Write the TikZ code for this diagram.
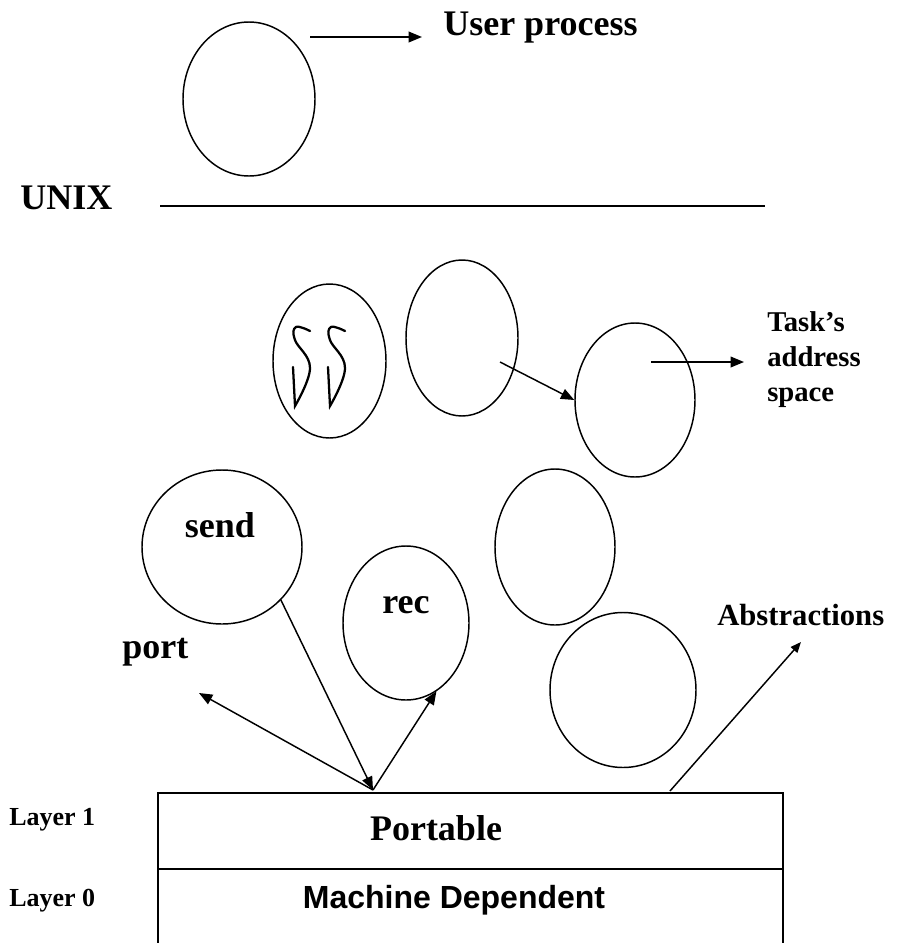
\documentclass[tikz,border=0pt]{standalone}
\usepackage{fontspec}
\setmainfont{Liberation Serif}
\setsansfont{Liberation Sans}
\usetikzlibrary{shapes.geometric,arrows.meta}

\begin{document}
\begin{tikzpicture}[x=0.75pt, y=-0.75pt,
    blob_node/.style 2 args={ellipse,draw,line width=1.1pt,inner sep=0pt,minimum width=#1*0.75pt,minimum height=#2*0.75pt},
    big_text/.style={inner sep=0pt,font=\fontsize{27}{30}\selectfont\bfseries},
    small_text/.style={inner sep=0pt,font=\fontsize{19.5}{27}\selectfont\bfseries,align=left},
    arrow_line/.style={line width=1.1pt,-{Triangle[length=10pt,width=8pt]}},
    layer_box/.style={draw,line width=1.6pt,outer sep=0pt,minimum width=625*0.75pt,minimum height=76*0.75pt,inner sep=0pt}]

    \useasboundingbox (0,0) rectangle (901,943);

    \node[blob_node={132}{154}] (1) at (249,99) {};
    \node[blob_node={113}{154}] (2) at (329.5,361) {};
    \node[blob_node={112}{156}] (3) at (462,338) {};
    \node[blob_node={120}{154}] (4) at (635,400) {};
    \node[blob_node={160}{154}] (5) at (222,547) {};
    \node[blob_node={126}{154}] (6) at (406,623) {};
    \node[blob_node={120}{156}] (7) at (555,547) {};
    \node[blob_node={146}{155}] (8) at (623,690) {};

    \node[layer_box] (l1) at (470.5,831) {};
    \draw[line width=1.6pt] (l1.south west) -- ++(0,80);
    \draw[line width=1.6pt] (l1.south east) -- ++(0,80);

    \node[big_text,anchor=base west] (user) at (443,35) {User process};
    \node[big_text,anchor=base west] (unix) at (20,209) {UNIX};
    \node[inner sep=0pt,font=\fontsize{21.5}{26.5}\selectfont\bfseries,align=left,anchor=north west] (task) at (767,311) {Task’s\\address\\space};
    \node[big_text,anchor=base] (send) at (220,537) {send};
    \node[big_text,anchor=base] (rec) at (406,613) {rec};
    \node[big_text,anchor=base west] (port) at (122,658) {port};
    \node[inner sep=0pt,font=\fontsize{23}{26}\selectfont\bfseries,anchor=base west] (abs) at (717,625) {Abstractions};
    \node[small_text,anchor=base west] (lay1) at (9,825) {Layer 1};
    \node[small_text,anchor=base west] (lay0) at (9,906) {Layer 0};
    \node[big_text,anchor=base] (portable) at (436,840) {Portable};
    \node[inner sep=0pt,font=\fontsize{24}{28}\selectfont\sffamily\bfseries,anchor=base] (machine) at (454,908) {Machine Dependent};

    \foreach \dx in {0,35}
        \draw[line width=1.7pt,line cap=round,shift={(\dx,0)}] plot[smooth,tension=0.7] coordinates {(310,331) (296,327) (295,340) (310,368) (295,406)} -- (293,367);

    \coordinate (a1) at (310,37);
    \coordinate (a2) at (422,37);
    \coordinate (u1) at (160,206);
    \coordinate (u2) at (765,206);
    \coordinate (a3) at (500,362);
    \coordinate (a4) at (651,362);
    \coordinate (a5) at (744,362);
    \coordinate (apex) at (373,790);
    \coordinate (p1) at (199,693);
    \coordinate (a6) at (670,791);
    \coordinate (a7) at (801,642);

    \draw[arrow_line] (a1) -- (a2);
    \draw[line width=1.1pt] (u1) -- (u2);
    \draw[arrow_line] (a3) -- (4.west);
    \draw[arrow_line] (a4) -- (a5);
    \draw[arrow_line] (5.-42) -- (apex);
    \draw[arrow_line] (apex) -- (p1);
    \draw[arrow_line] (apex) -- (6.-66);
    \draw[line width=1.1pt,-{Triangle[length=8pt,width=6.5pt]}] (a6) -- (a7);
\end{tikzpicture}
\end{document}
